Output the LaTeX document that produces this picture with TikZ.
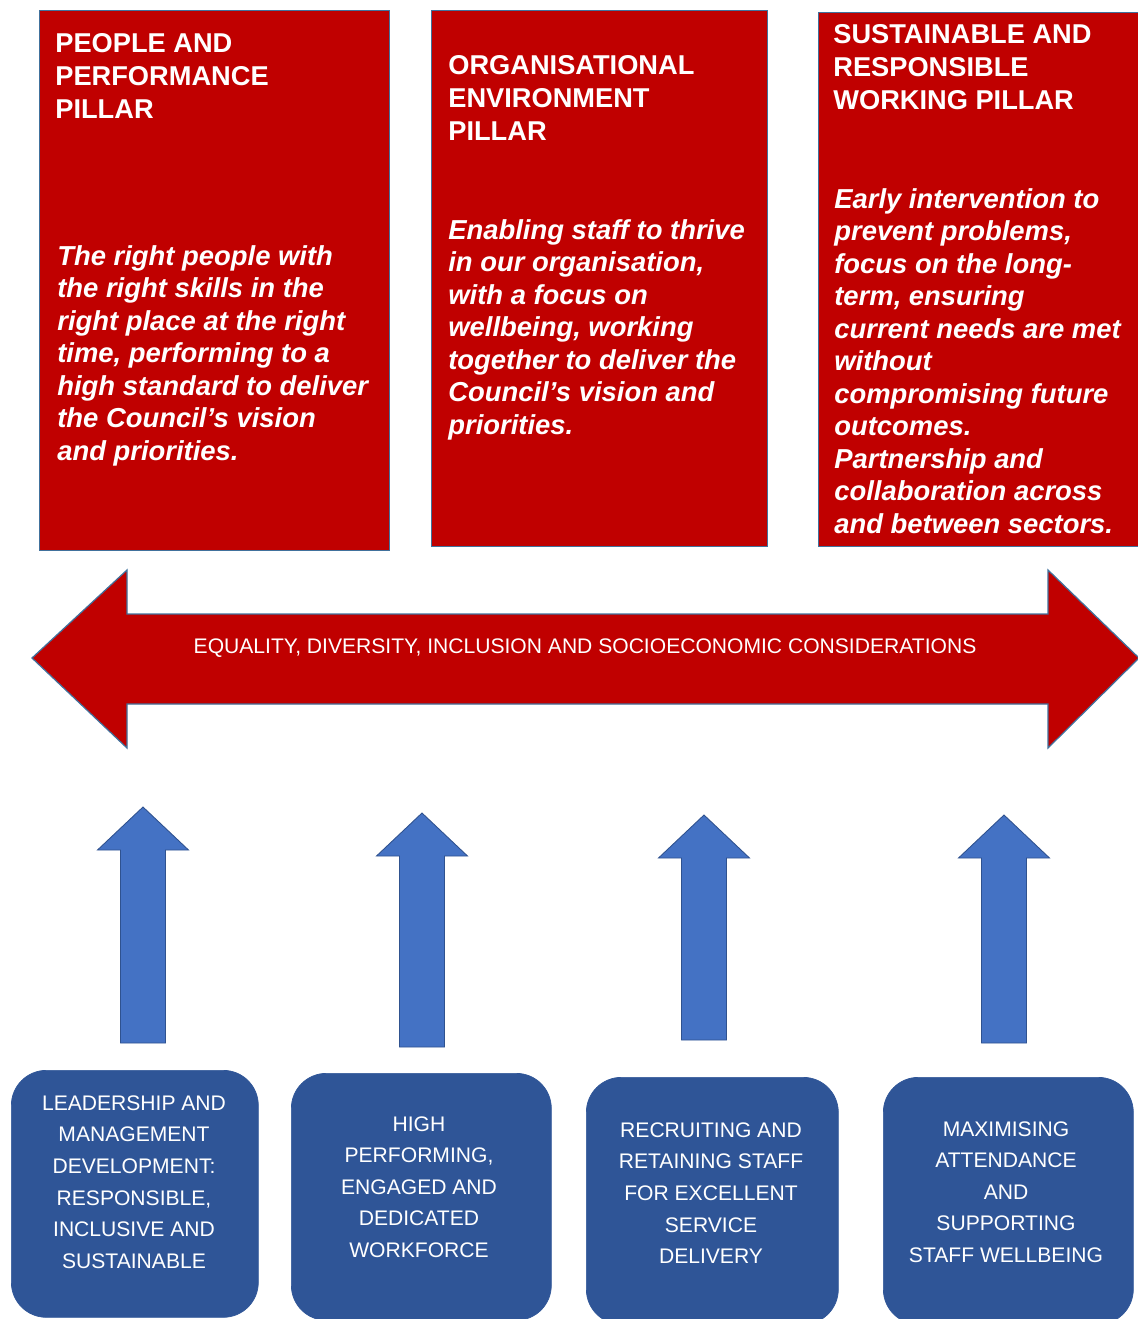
\documentclass[tikz,border=0pt]{standalone}
\usepackage{fontspec}
\setmainfont{Liberation Sans}
\usetikzlibrary{positioning}
\definecolor{pillarred}{HTML}{C00000}
\definecolor{pillaredge}{HTML}{41719C}
\definecolor{liftblue}{HTML}{4472C4}
\definecolor{liftedge}{HTML}{2F528F}
\definecolor{themeblue}{HTML}{2F5597}
\tikzset{
  pillarpicture/.style={x=0.02cm, y=-0.02cm},
  pillarbox/.style={draw=pillaredge, line width=0.7pt, fill=pillarred, anchor=north west, inner sep=0pt},
  pillarhead/.style={anchor=north west, align=left, text=white, inner sep=0pt, font=\bfseries\fontsize{15.5}{18.8}\selectfont},
  pillartext/.style={anchor=north west, align=left, text=white, inner sep=0pt, font=\bfseries\itshape\fontsize{15.6}{18.5}\selectfont},
  themebox/.style={fill=themeblue, draw=themeblue, rounded corners=0.7cm, anchor=north west, inner sep=0pt},
  themetext/.style={align=center, text=white, inner sep=0pt, font=\fontsize{12}{18}\selectfont},
  bandarrow/.style={draw=pillaredge, line width=0.7pt, fill=pillarred},
  bandtext/.style={text=white, inner sep=0pt, font=\fontsize{12}{14}\selectfont},
  liftarrow/.style={draw=liftedge, line width=0.5pt, fill=liftblue}
}

\begin{document}
\begin{tikzpicture}[pillarpicture]
\useasboundingbox (0,0) rectangle (1137,1319);

% pillars
\node[pillarbox, minimum width=7cm, minimum height=10.8cm] (people) at (39,10) {};
\node[pillarbox, minimum width=6.72cm, minimum height=10.72cm] (organisation) at (431,10) {};
\node[pillarbox, minimum width=6.5cm, minimum height=10.68cm] (sustainable) at (818,12) {};

\node[pillarhead] (peoplehead) at (55,33) {PEOPLE AND\\PERFORMANCE\\PILLAR};
\node[pillartext] (peopletext) at (57,245) {The right people with\\the right skills in the\\right place at the right\\time, performing to a\\high standard to deliver\\the Council’s vision\\and priorities.};

\node[pillarhead] (organisationhead) at (448,55) {ORGANISATIONAL\\ENVIRONMENT\\PILLAR};
\node[pillartext] (organisationtext) at (448,219) {Enabling staff to thrive\\in our organisation,\\with a focus on\\wellbeing, working\\together to deliver the\\Council’s vision and\\priorities.};

\node[pillarhead] (sustainablehead) at (833,24) {SUSTAINABLE AND\\RESPONSIBLE\\WORKING PILLAR};
\node[pillartext] (sustainabletext) at (834,188) {Early intervention to\\prevent problems,\\focus on the long-\\term, ensuring\\current needs are met\\without\\compromising future\\outcomes.\\Partnership and\\collaboration across\\and between sectors.};

% band across the pillars
\draw[bandarrow] (32,658) -- (127,570) -- (127,614) -- (1048,614) -- (1048,570) -- (1139,658)
  -- (1048,748) -- (1048,704) -- (127,704) -- (127,748) -- cycle;
\node[bandtext] (equality) at (585,648) {EQUALITY, DIVERSITY, INCLUSION AND SOCIOECONOMIC CONSIDERATIONS};

% themes
\node[themebox, minimum width=4.94cm, minimum height=4.94cm] (leadership) at (11,1070) {};
\node[themebox, minimum width=5.2cm, minimum height=4.94cm] (workforce) at (291,1073) {};
\node[themebox, minimum width=5.04cm, minimum height=4.94cm] (recruiting) at (586,1077) {};
\node[themebox, minimum width=5cm, minimum height=4.94cm] (attendance) at (883,1077) {};

\node[themetext] (leadershiptext) at (134,1182) {LEADERSHIP AND\\MANAGEMENT\\DEVELOPMENT:\\RESPONSIBLE,\\INCLUSIVE AND\\SUSTAINABLE};
\node[themetext] (workforcetext) at (419,1187) {HIGH\\PERFORMING,\\ENGAGED AND\\DEDICATED\\WORKFORCE};
\node[themetext] (recruitingtext) at (711,1193) {RECRUITING AND\\RETAINING STAFF\\FOR EXCELLENT\\SERVICE\\DELIVERY};
\node[themetext] (attendancetext) at (1006,1192) {MAXIMISING\\ATTENDANCE\\AND\\SUPPORTING\\STAFF WELLBEING};

% upward arrows
\foreach \tipx/\tipy/\foot in {143/807/1043, 422/813/1047, 704/815/1040, 1004/815/1043}
  \draw[liftarrow] (\tipx,\tipy) -- ({\tipx+45.5},{\tipy+43}) -- ({\tipx+22.5},{\tipy+43})
    -- ({\tipx+22.5},\foot) -- ({\tipx-22.5},\foot) -- ({\tipx-22.5},{\tipy+43})
    -- ({\tipx-45.5},{\tipy+43}) -- cycle;
\end{tikzpicture}
\end{document}
